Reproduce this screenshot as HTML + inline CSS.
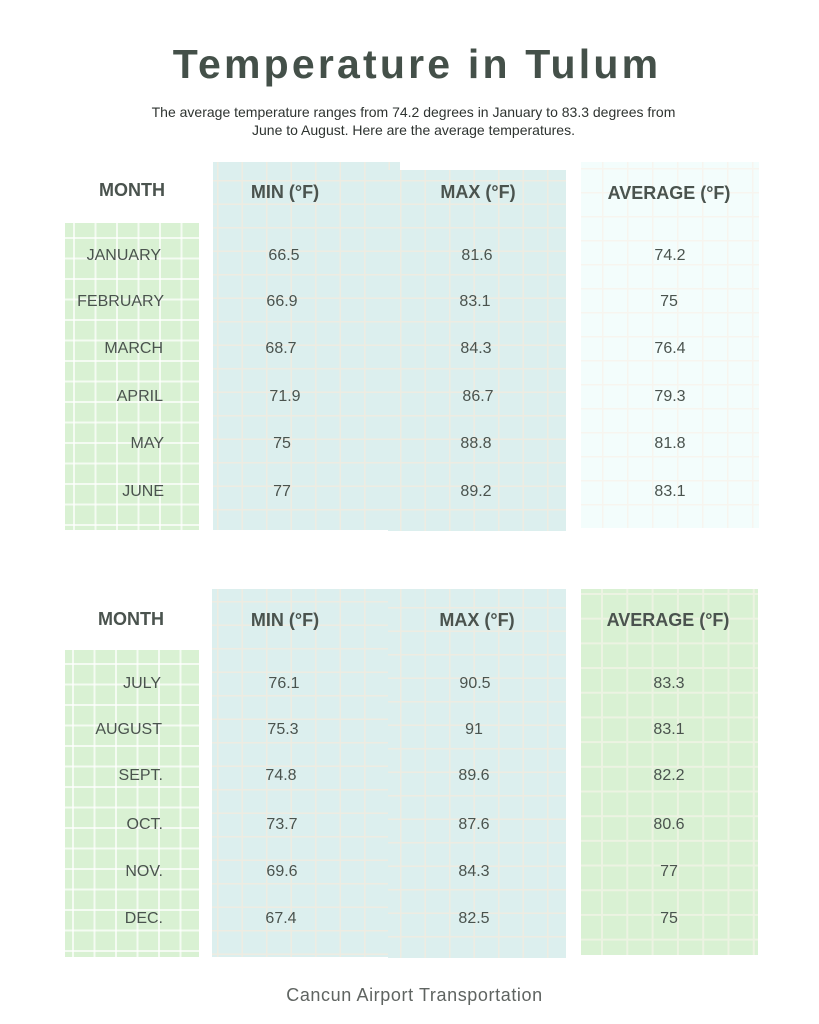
<!DOCTYPE html>
<html><head><meta charset="utf-8">
<style>
html,body{margin:0;padding:0;background:#fff;}
body{width:819px;height:1024px;position:relative;overflow:hidden;font-family:"Liberation Sans",sans-serif;color:#4a534e;}
.p{position:absolute;}
.g{background-color:#d9f1d3;background-image:linear-gradient(to right,rgba(255,255,255,.7) 2px,transparent 2px),linear-gradient(to bottom,rgba(255,255,255,.7) 2px,transparent 2px);background-size:21.5px 20.5px;}
.b{background-color:#dcefee;background-image:linear-gradient(to right,#eeece2 1.5px,transparent 1.5px),linear-gradient(to bottom,#eeece2 1.5px,transparent 1.5px);background-size:24.5px 23.5px;}
.l{background-color:#f3fdfc;background-image:linear-gradient(to right,#f7f5ef 1.5px,transparent 1.5px),linear-gradient(to bottom,#f7f5ef 1.5px,transparent 1.5px);background-size:25px 24px;}
.ga{background-color:#d9f1d3;background-image:linear-gradient(to right,#ecf3e2 2px,transparent 2px),linear-gradient(to bottom,#ecf3e2 2px,transparent 2px);background-size:25.3px 24.7px;}
.t{position:absolute;height:20px;line-height:20px;font-size:16px;white-space:nowrap;}
.c{width:100px;text-align:center;transform:translateY(2px);}
.r{text-align:right;width:120px;transform:translateY(2px);}
.h{font-weight:bold;font-size:18px;width:200px;text-align:center;}
</style></head><body>

<div class="p" style="left:117px;top:36px;width:600px;text-align:center;font-weight:bold;font-size:41px;letter-spacing:3.2px;color:#445049;line-height:56px;">Temperature in Tulum</div>
<div class="p" style="left:0;top:103px;width:827px;text-align:center;font-size:14px;color:#2e3330;line-height:18px;">The average temperature ranges from 74.2 degrees in January to 83.3 degrees from<br>June to August. Here are the average temperatures.</div>

<!-- top panels -->
<div class="p g" style="left:65px;top:223px;width:134px;height:307px;background-position:8px 14px;"></div>
<div class="p b" style="left:213px;top:162px;width:187px;height:368px;background-position:4px 18px;"></div>
<div class="p b" style="left:388px;top:170px;width:178px;height:361px;background-position:12px 10px;"></div>
<div class="p l" style="left:581px;top:162px;width:178px;height:366px;background-position:21px 6px;"></div>

<!-- bottom panels -->
<div class="p g" style="left:65px;top:650px;width:134px;height:307px;background-position:7px 13px;"></div>
<div class="p b" style="left:212px;top:589px;width:180px;height:368px;background-position:5px 12px;"></div>
<div class="p b" style="left:388px;top:589px;width:178px;height:369px;background-position:12px 18px;"></div>
<div class="p ga" style="left:581px;top:589px;width:177px;height:366px;background-position:20px 4px;"></div>

<!-- top headers -->
<div class="t h" style="left:32px;top:180px;">MONTH</div>
<div class="t h" style="left:185px;top:182px;">MIN (°F)</div>
<div class="t h" style="left:378px;top:182px;">MAX (°F)</div>
<div class="t h" style="left:569px;top:183px;">AVERAGE (°F)</div>

<!-- top months -->
<div class="t r" style="left:41px;top:244px;">JANUARY</div>
<div class="t r" style="left:44px;top:290px;">FEBRUARY</div>
<div class="t r" style="left:43px;top:337px;">MARCH</div>
<div class="t r" style="left:43px;top:385px;">APRIL</div>
<div class="t r" style="left:44px;top:432px;">MAY</div>
<div class="t r" style="left:44px;top:480px;">JUNE</div>

<!-- top min -->
<div class="t c" style="left:234px;top:244px;">66.5</div>
<div class="t c" style="left:232px;top:290px;">66.9</div>
<div class="t c" style="left:231px;top:337px;">68.7</div>
<div class="t c" style="left:235px;top:385px;">71.9</div>
<div class="t c" style="left:232px;top:432px;">75</div>
<div class="t c" style="left:232px;top:480px;">77</div>

<!-- top max -->
<div class="t c" style="left:427px;top:244px;">81.6</div>
<div class="t c" style="left:425px;top:290px;">83.1</div>
<div class="t c" style="left:426px;top:337px;">84.3</div>
<div class="t c" style="left:428px;top:385px;">86.7</div>
<div class="t c" style="left:426px;top:432px;">88.8</div>
<div class="t c" style="left:426px;top:480px;">89.2</div>

<!-- top avg -->
<div class="t c" style="left:620px;top:244px;">74.2</div>
<div class="t c" style="left:619px;top:290px;">75</div>
<div class="t c" style="left:620px;top:337px;">76.4</div>
<div class="t c" style="left:620px;top:385px;">79.3</div>
<div class="t c" style="left:620px;top:432px;">81.8</div>
<div class="t c" style="left:620px;top:480px;">83.1</div>

<!-- bottom headers -->
<div class="t h" style="left:31px;top:609px;">MONTH</div>
<div class="t h" style="left:185px;top:610px;">MIN (°F)</div>
<div class="t h" style="left:377px;top:610px;">MAX (°F)</div>
<div class="t h" style="left:568px;top:610px;">AVERAGE (°F)</div>

<!-- bottom months -->
<div class="t r" style="left:41px;top:672px;">JULY</div>
<div class="t r" style="left:42px;top:718px;">AUGUST</div>
<div class="t r" style="left:43px;top:764px;">SEPT.</div>
<div class="t r" style="left:43px;top:813px;">OCT.</div>
<div class="t r" style="left:43px;top:860px;">NOV.</div>
<div class="t r" style="left:43px;top:907px;">DEC.</div>

<!-- bottom min -->
<div class="t c" style="left:234px;top:672px;">76.1</div>
<div class="t c" style="left:233px;top:718px;">75.3</div>
<div class="t c" style="left:231px;top:764px;">74.8</div>
<div class="t c" style="left:232px;top:813px;">73.7</div>
<div class="t c" style="left:232px;top:860px;">69.6</div>
<div class="t c" style="left:231px;top:907px;">67.4</div>

<!-- bottom max -->
<div class="t c" style="left:425px;top:672px;">90.5</div>
<div class="t c" style="left:424px;top:718px;">91</div>
<div class="t c" style="left:424px;top:764px;">89.6</div>
<div class="t c" style="left:424px;top:813px;">87.6</div>
<div class="t c" style="left:424px;top:860px;">84.3</div>
<div class="t c" style="left:424px;top:907px;">82.5</div>

<!-- bottom avg -->
<div class="t c" style="left:619px;top:672px;">83.3</div>
<div class="t c" style="left:619px;top:718px;">83.1</div>
<div class="t c" style="left:619px;top:764px;">82.2</div>
<div class="t c" style="left:619px;top:813px;">80.6</div>
<div class="t c" style="left:619px;top:860px;">77</div>
<div class="t c" style="left:619px;top:907px;">75</div>

<div class="p" style="left:0;top:984px;width:829px;text-align:center;font-size:18px;letter-spacing:0.6px;line-height:22px;color:#5f6461;">Cancun Airport Transportation</div>

</body></html>
